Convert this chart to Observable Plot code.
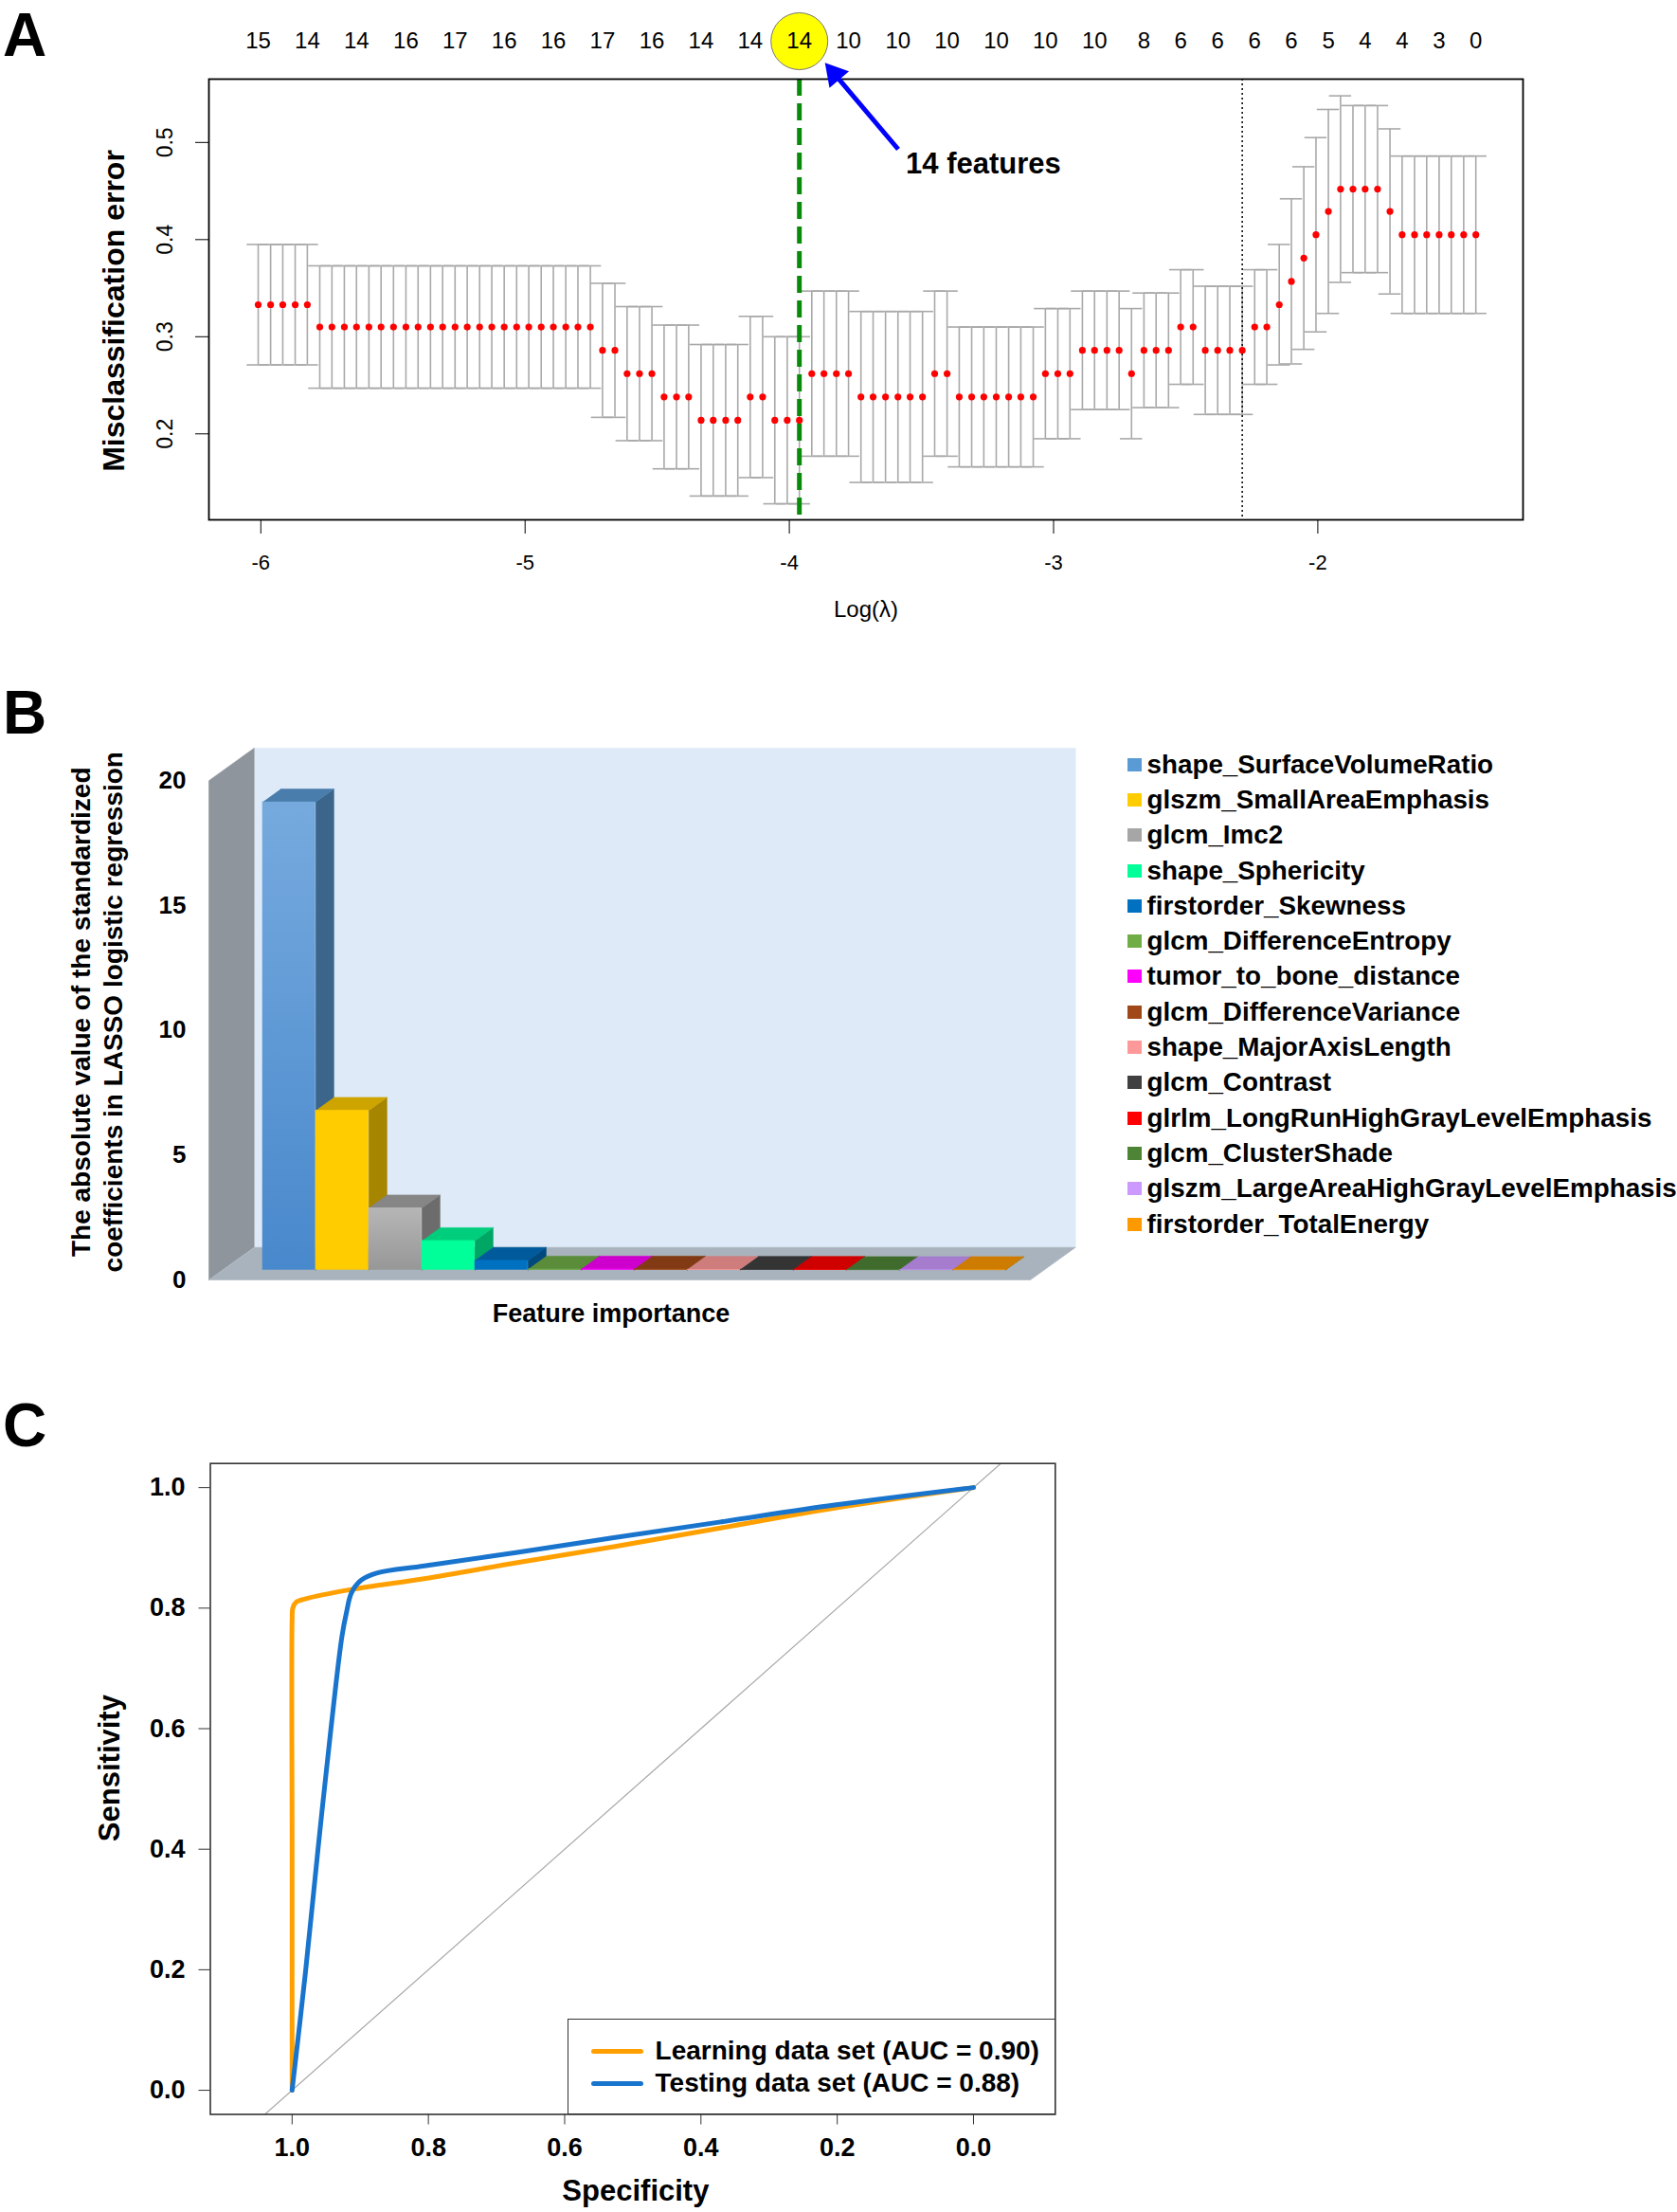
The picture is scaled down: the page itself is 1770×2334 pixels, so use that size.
<!DOCTYPE html>
<html>
<head>
<meta charset="utf-8">
<script src="https://cdn.jsdelivr.net/npm/d3@7"></script>
<script src="https://cdn.jsdelivr.net/npm/@observablehq/plot@0.6"></script>
<style>
html, body { margin: 0; padding: 0; background: #ffffff; overflow: hidden; }
#root { position: relative; width: 1770px; height: 2334px; font-family: "Liberation Sans", Arial, sans-serif; color: #000; }
#root svg { position: absolute; left: 0; background: transparent; }
.letter { position: absolute; font-weight: bold; font-size: 64px; line-height: 0.85; }
.letter.first { line-height: normal; }
.legB { position: absolute; left: 1190px; top: 788px; font-weight: bold; font-size: 27.8px; white-space: nowrap; }
.legB .row { height: 37.3px; display: flex; align-items: center; }
.legB .sw { width: 14.5px; height: 14px; margin-right: 6px; flex: none; }
.legC { position: absolute; left: 598.6px; top: 2130px; width: 515.4px; height: 101px; box-sizing: border-box;
        border: 1.5px solid #333; background: #fff; font-weight: bold; font-size: 28px; white-space: nowrap; }
.legC .row { position: absolute; left: 0; display: flex; align-items: center; height: 34px; }
.legC .ln { width: 55px; height: 5px; border-radius: 3px; margin-left: 24px; margin-right: 13px; }
</style>
</head>
<body>
<div id="root"></div>
<script>
// ---------------- Panel A data (cv.glmnet) ----------------
const logLambda = [
 -6.010,-5.963,-5.917,-5.870,-5.824,-5.777,-5.731,-5.684,-5.638,-5.591,
 -5.545,-5.498,-5.451,-5.405,-5.358,-5.312,-5.265,-5.219,-5.172,-5.126,
 -5.079,-5.032,-4.986,-4.939,-4.893,-4.846,-4.800,-4.753,-4.707,-4.660,
 -4.614,-4.567,-4.520,-4.474,-4.427,-4.381,-4.334,-4.288,-4.241,-4.195,
 -4.148,-4.101,-4.055,-4.008,-3.962,-3.915,-3.869,-3.822,-3.776,-3.729,
 -3.683,-3.636,-3.589,-3.543,-3.496,-3.450,-3.403,-3.357,-3.310,-3.264,
 -3.217,-3.170,-3.124,-3.077,-3.031,-2.984,-2.938,-2.891,-2.845,-2.798,
 -2.752,-2.705,-2.658,-2.612,-2.565,-2.519,-2.472,-2.426,-2.379,-2.333,
 -2.286,-2.239,-2.193,-2.146,-2.100,-2.053,-2.007,-1.960,-1.914,-1.867,
 -1.821,-1.774,-1.727,-1.681,-1.634,-1.588,-1.541,-1.495,-1.448,-1.402
];
const cvm = [
 .333,.333,.333,.333,.333,.310,.310,.310,.310,.310,
 .310,.310,.310,.310,.310,.310,.310,.310,.310,.310,
 .310,.310,.310,.310,.310,.310,.310,.310,.286,.286,
 .262,.262,.262,.238,.238,.238,.214,.214,.214,.214,
 .238,.238,.214,.214,.214,.262,.262,.262,.262,.238,
 .238,.238,.238,.238,.238,.262,.262,.238,.238,.238,
 .238,.238,.238,.238,.262,.262,.262,.286,.286,.286,
 .286,.262,.286,.286,.286,.310,.310,.286,.286,.286,
 .286,.310,.310,.333,.357,.381,.405,.429,.452,.452,
 .452,.452,.429,.405,.405,.405,.405,.405,.405,.405
];
const cvsd = [
 .062,.062,.062,.062,.062,.063,.063,.063,.063,.063,
 .063,.063,.063,.063,.063,.063,.063,.063,.063,.063,
 .063,.063,.063,.063,.063,.063,.063,.063,.069,.069,
 .069,.069,.069,.074,.074,.074,.078,.078,.078,.078,
 .083,.083,.086,.086,.086,.085,.085,.085,.085,.088,
 .088,.088,.088,.088,.088,.085,.085,.072,.072,.072,
 .072,.072,.072,.072,.067,.067,.067,.061,.061,.061,
 .061,.067,.059,.059,.059,.059,.059,.066,.066,.066,
 .066,.059,.059,.062,.085,.094,.100,.105,.096,.086,
 .086,.086,.085,.081,.081,.081,.081,.081,.081,.081
];
const nzIdx   = [0,4,8,12,16,20,24,28,32,36,40,44,48,52,56,60,64,68,72,75,78,81,84,87,90,93,96,99];
const nzCount = [15,14,14,16,17,16,16,17,16,14,14,14,10,10,10,10,10,10,8,6,6,6,6,5,4,4,3,0];
const lambdaMinIdx = 44;
const lambda1seIdx = 80;
const xTicksA = [-6, -5, -4, -3, -2];
const yTicksA = [0.2, 0.3, 0.4, 0.5];
const arrowA = {x1: -3.588, y1: 0.493, x2: -3.865, y2: 0.582};
const noteA = {text: "14 features", x: -3.559, y: 0.4776};

// ---------------- Panel B data ----------------
const features = [
 "shape_SurfaceVolumeRatio","glszm_SmallAreaEmphasis","glcm_Imc2","shape_Sphericity",
 "firstorder_Skewness","glcm_DifferenceEntropy","tumor_to_bone_distance","glcm_DifferenceVariance",
 "shape_MajorAxisLength","glcm_Contrast","glrlm_LongRunHighGrayLevelEmphasis","glcm_ClusterShade",
 "glszm_LargeAreaHighGrayLevelEmphasis","firstorder_TotalEnergy"
];
const coefValues = [18.75, 6.40, 2.49, 1.18, 0.39, 0.04, 0.04, 0.04, 0.03, 0.03, 0.03, 0.02, 0.02, 0.02];
const featureColors = ["#5b9bd5","#ffcc00","#a6a6a6","#00ff99","#0070c0","#70ad47","#ff00ff","#a04818",
                       "#ff9999","#404040","#ff0000","#4e8436","#cc99ff","#ff9900"];
const yTicksB = [0, 5, 10, 15, 20];

// ---------------- Panel C data (ROC) ----------------
const learnSpec = [1.000, 1.000, 1.000, 0.999, 0.994, 0.982, 0.913, 0.806, 0.667, 0.528, 0.371, 0.204, 0.000];
const learnSens = [0.000, 0.400, 0.780, 0.800, 0.810, 0.815, 0.831, 0.849, 0.876, 0.902, 0.933, 0.966, 1.000];
const testSpec  = [1.000, 0.980, 0.962, 0.943, 0.927, 0.920, 0.913, 0.899, 0.876, 0.806, 0.667, 0.528, 0.371, 0.204, 0.000];
const testSens  = [0.000, 0.200, 0.400, 0.600, 0.752, 0.794, 0.825, 0.846, 0.858, 0.870, 0.893, 0.917, 0.943, 0.971, 1.000];
const rocTicks = [1.0, 0.8, 0.6, 0.4, 0.2, 0.0];
const rocLegend = ["Learning data set (AUC = 0.90)", "Testing data set (AUC = 0.88)"];
const rocColors = ["#ffa000", "#1874cd"];

// =====================================================================
const FONT = '"Liberation Sans", Arial, sans-serif';
const root = document.getElementById("root");
const C = {textAnchor: "middle", lineAnchor: "middle"};

// ---------------- Panel A ----------------
const cv = logLambda.map((x, i) => ({x, cvm: cvm[i], sd: cvsd[i]}));
const capW = 0.042;
const nzLabels = nzIdx.map((i, k) => ({x: logLambda[i], n: String(nzCount[k])}));
const shaftEnd = 0.88;

const plotA = Plot.plot({
  width: 1770, height: 690,
  marginLeft: 220, marginRight: 163, marginTop: 83, marginBottom: 142,
  x: {domain: [-6.1965, -1.2234]},
  y: {domain: [0.1115, 0.5652]},
  style: {fontFamily: FONT, fontSize: "22px", color: "#000", background: "transparent", overflow: "visible"},
  marks: [
    Plot.ruleX(cv, {x: "x", y1: d => d.cvm - d.sd, y2: d => d.cvm + d.sd, stroke: "#a9a9a9", strokeWidth: 1.6}),
    Plot.ruleY(cv, {y: d => d.cvm + d.sd, x1: d => d.x - capW, x2: d => d.x + capW, stroke: "#a9a9a9", strokeWidth: 1.6}),
    Plot.ruleY(cv, {y: d => d.cvm - d.sd, x1: d => d.x - capW, x2: d => d.x + capW, stroke: "#a9a9a9", strokeWidth: 1.6}),
    Plot.ruleX([logLambda[lambdaMinIdx]], {x: d => d, stroke: "#0a8a0a", strokeWidth: 5, strokeDasharray: "18,8"}),
    Plot.ruleX([logLambda[lambda1seIdx]], {x: d => d, stroke: "#000", strokeWidth: 1.5, strokeDasharray: "2,3"}),
    Plot.dot(cv, {x: "x", y: "cvm", r: 3.6, fill: "#ff0000"}),
    Plot.frame({stroke: "#000", strokeWidth: 1.8}),
    Plot.axisX({ticks: xTicksA, tickSize: 15, tickPadding: 22, fontSize: 22, label: null, tickFormat: d => String(d)}),
    Plot.axisY({ticks: yTicksA, tickSize: 14, tickFormat: () => "", label: null}),
    Plot.text(yTicksA, {...C, y: d => d, text: d => d.toFixed(1), frameAnchor: "left", dx: -46, rotate: -90, fontSize: 23}),
    Plot.text(["Misclassification error"], {...C, text: d => d, frameAnchor: "left", dx: -100, dy: 12, rotate: -90, fontSize: 32, fontWeight: "bold"}),
    Plot.text(["Log(λ)"], {...C, text: d => d, frameAnchor: "bottom", dy: 95, fontSize: 24}),
    Plot.dot([logLambda[lambdaMinIdx]], {x: d => d, frameAnchor: "top", dy: -40, r: 30, fill: "#ffff00", stroke: "#777", strokeWidth: 1}),
    Plot.text(nzLabels, {...C, x: "x", text: "n", frameAnchor: "top", dy: -40, fontSize: 24}),
    Plot.link([arrowA], {x1: "x1", y1: "y1",
      x2: d => d.x1 + shaftEnd * (d.x2 - d.x1), y2: d => d.y1 + shaftEnd * (d.y2 - d.y1),
      stroke: "#0000ff", strokeWidth: 5}),
    Plot.dot([arrowA], {x: "x2", y: "y2", symbol: "triangle", r: 10, fill: "#0000ff", rotate: -40.3, dx: 10, dy: 11.8}),
    Plot.text([noteA], {x: "x", y: "y", text: "text", textAnchor: "start", lineAnchor: "middle", fontSize: 31, fontWeight: "bold"})
  ]
});
plotA.style.top = "0px";
root.appendChild(plotA);

// ---------------- Panel B (pseudo-3D column chart) ----------------
const DX = 0.8515, DY = 1.302;      // full floor depth in x / y units
const XL = -0.757, XR = 14.72;      // floor front edge
const WALL = 20;
const FX = 0.3 * DX, FY = 0.3 * DY; // bar front plane offset
const BX = 0.4 * DX, BY = 0.4 * DY; // bar depth
const polys = [];
let pid = 0;
function addPoly(pts, fill) { const id = pid++; pts.forEach(([x, y]) => polys.push({id, x, y, fill})); }
addPoly([[XL + DX, DY], [XR + DX, DY], [XR + DX, WALL + DY], [XL + DX, WALL + DY]], "#deeaf7");
addPoly([[XL, 0], [XL, WALL], [XL + DX, WALL + DY], [XL + DX, DY]], "#8e959d");
addPoly([[XL, 0], [XR, 0], [XR + DX, DY], [XL + DX, DY]], "#a9b3bd");
const fronts = [];
coefValues.forEach((v, i) => {
  const x0 = i + FX, x1 = i + 1 + FX, y0 = FY, y1 = FY + v;
  const base = d3.color(featureColors[i]);
  addPoly([[x1, y0], [x1, y1], [x1 + BX, y1 + BY], [x1 + BX, y0 + BY]], base.darker(1.2).formatHex());
  addPoly([[x0, y1], [x1, y1], [x1 + BX, y1 + BY], [x0 + BX, y1 + BY]], base.darker(0.6).formatHex());
  const fill = i === 0 ? "url(#gradBlue)" : i === 2 ? "url(#gradGrey)" : featureColors[i];
  fronts.push({x0, x1, y0, y1, fill});
});

const plotB = Plot.plot({
  width: 1770, height: 730,
  marginLeft: 220, marginRight: 683, marginTop: 70.5, marginBottom: 80,
  x: {domain: [XL, XR], axis: null},
  y: {domain: [0, 22]},
  color: {type: "identity"},
  style: {fontFamily: FONT, fontSize: "26px", color: "#000", background: "transparent", overflow: "visible"},
  marks: [
    Plot.line(polys, {x: "x", y: "y", z: "id", fill: "fill", stroke: "fill", strokeWidth: 0.6, curve: "linear"}),
    Plot.rect(fronts, {x1: "x0", x2: "x1", y1: "y0", y2: "y1", fill: "fill"}),
    Plot.axisY({ticks: yTicksB, tickSize: 0, tickPadding: 24, fontSize: 26, fontWeight: "bold", label: null}),
    Plot.text(["Feature importance"], {...C, text: d => d, frameAnchor: "bottom", dx: -9, dy: 36, fontSize: 27, fontWeight: "bold"}),
    Plot.text(["The absolute value of the standardized\ncoefficients in LASSO logistic regression"],
      {...C, text: d => d, frameAnchor: "left", dx: -119, dy: 7, rotate: -90, fontSize: 28, fontWeight: "bold", lineHeight: 1.21})
  ]
});
plotB.style.top = "700px";
const defs = d3.select(plotB).insert("defs", ":first-child");
function grad(id, c1, c2) {
  const g = defs.append("linearGradient").attr("id", id).attr("x1", 0).attr("y1", 0).attr("x2", 0).attr("y2", 1);
  g.append("stop").attr("offset", "0%").attr("stop-color", c1);
  g.append("stop").attr("offset", "100%").attr("stop-color", c2);
}
grad("gradBlue", "#76aade", "#4888cc");
grad("gradGrey", "#b6b6b6", "#979797");
root.appendChild(plotB);

const legB = document.createElement("div");
legB.className = "legB";
features.forEach((f, i) => {
  const row = document.createElement("div"); row.className = "row";
  const sw = document.createElement("div"); sw.className = "sw"; sw.style.background = featureColors[i];
  const tx = document.createElement("span"); tx.textContent = f;
  row.appendChild(sw); row.appendChild(tx); legB.appendChild(row);
});
root.appendChild(legB);

// ---------------- Panel C (ROC) ----------------
const learn = learnSpec.map((s, i) => ({spec: s, sens: learnSens[i]}));
const test = testSpec.map((s, i) => ({spec: s, sens: testSens[i]}));
const yDomC = [-0.04, 1.04];
const diag = yDomC.map(y => ({spec: 1 - y, sens: y}));

const plotC = Plot.plot({
  width: 1770, height: 854,
  marginLeft: 221.5, marginRight: 656.7, marginTop: 63.7, marginBottom: 103.5,
  x: {domain: [1.12, -0.12]},
  y: {domain: yDomC},
  style: {fontFamily: FONT, fontSize: "27px", color: "#000", background: "transparent", overflow: "visible"},
  marks: [
    Plot.line(diag, {x: "spec", y: "sens", stroke: "#a8a8a8", strokeWidth: 1.2, clip: true}),
    Plot.line(learn, {x: "spec", y: "sens", stroke: rocColors[0], strokeWidth: 5, curve: "catmull-rom"}),
    Plot.line(test, {x: "spec", y: "sens", stroke: rocColors[1], strokeWidth: 5, curve: "catmull-rom"}),
    Plot.frame({stroke: "#333", strokeWidth: 1.6}),
    Plot.axisX({ticks: rocTicks, tickFormat: d3.format(".1f"), tickSize: 11, tickPadding: 14, fontSize: 27, fontWeight: "bold", stroke: "#333", label: null}),
    Plot.axisY({ticks: rocTicks, tickFormat: d3.format(".1f"), tickSize: 12, tickPadding: 14.5, fontSize: 27, fontWeight: "bold", stroke: "#333", label: null}),
    Plot.text(["Specificity"], {...C, text: d => d, frameAnchor: "bottom", dx: 3, dy: 81, fontSize: 31, fontWeight: "bold"}),
    Plot.text(["Sensitivity"], {...C, text: d => d, frameAnchor: "left", dx: -105.5, dy: -22, rotate: -90, fontSize: 31, fontWeight: "bold"})
  ]
});
plotC.style.top = "1480px";
root.appendChild(plotC);

const legC = document.createElement("div");
legC.className = "legC";
rocLegend.forEach((t, i) => {
  const row = document.createElement("div"); row.className = "row";
  row.style.top = (16.3 + 34 * i) + "px";
  const ln = document.createElement("div"); ln.className = "ln"; ln.style.background = rocColors[i];
  const tx = document.createElement("span"); tx.textContent = t;
  row.appendChild(ln); row.appendChild(tx); legC.appendChild(row);
});
root.appendChild(legC);

// ---------------- Panel letters ----------------
[["A", 3, 0, "letter first"], ["B", 3, 725.3, "letter"], ["C", 3, 1476.6, "letter"]].forEach(([t, x, y, cls]) => {
  const d = document.createElement("div"); d.className = cls;
  d.style.left = x + "px"; d.style.top = y + "px"; d.textContent = t;
  root.appendChild(d);
});
</script>
</body>
</html>
